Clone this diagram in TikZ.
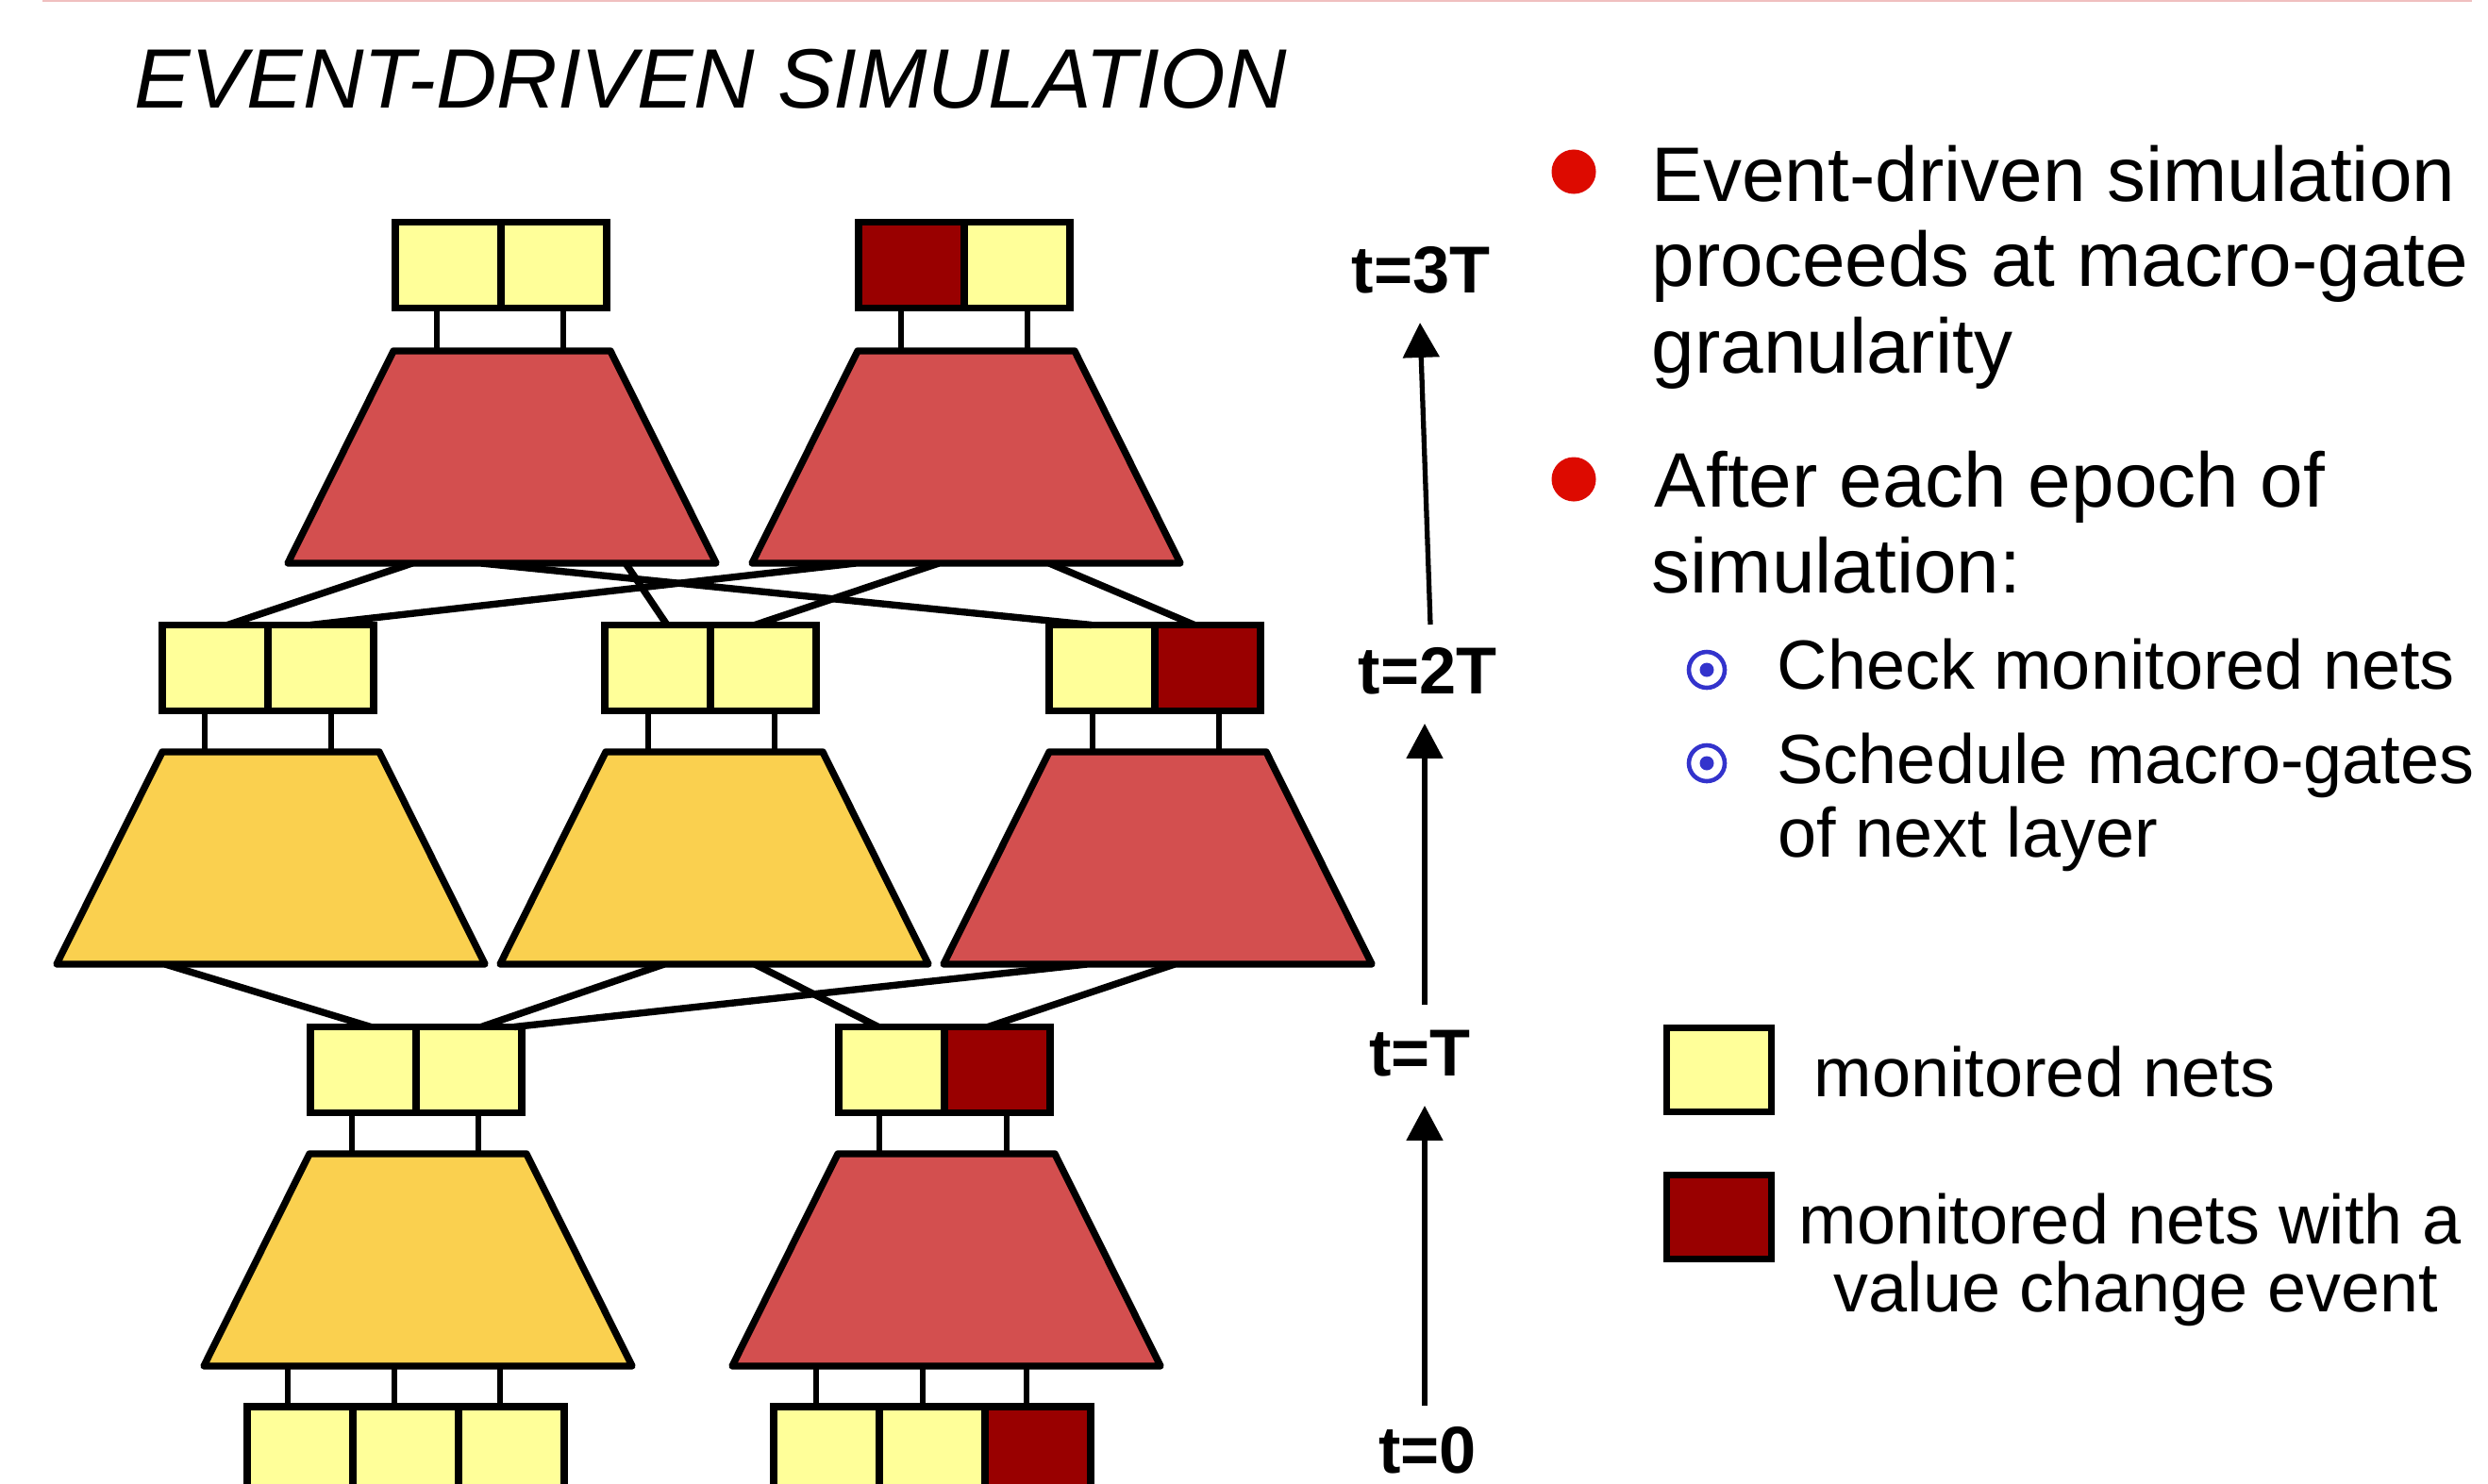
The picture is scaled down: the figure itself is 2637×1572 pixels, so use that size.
\documentclass[tikz,border=0pt]{standalone}
\usepackage{fontspec}
\setmainfont{Liberation Sans}
\usetikzlibrary{arrows.meta,calc}
\definecolor{ylw}{HTML}{FFFF99}
\definecolor{dred}{HTML}{990000}
\definecolor{tred}{HTML}{D34F4F}
\definecolor{torg}{HTML}{FAD04F}
\definecolor{bred}{HTML}{DD0A00}
\definecolor{sblue}{HTML}{3333CC}
\definecolor{pinkline}{HTML}{F0C0C0}
\newcommand\mgate[4]{%
  \coordinate (#1-tl) at ({#2-115},#3);
  \coordinate (#1-tr) at ({#2+115},#3);
  \coordinate (#1-bl) at ({#2-227},{#3+225});
  \coordinate (#1-br) at ({#2+227},{#3+225});
  \draw[gate,fill=#4] (#1-tl) -- (#1-tr) -- (#1-br) -- (#1-bl) -- cycle;
}
\begin{document}
\begin{tikzpicture}[x=0.01cm,y=-0.01cm,
  cell/.style={draw=black,line width=2.1pt,minimum width=1.12cm,minimum height=0.91cm,inner sep=0pt,outer sep=0pt},
  incell/.style={cell,minimum height=1.3cm},
  gate/.style={draw=black,line width=2.1pt,line join=round},
  wire/.style={draw=black,line width=2.1pt},
  stub/.style={draw=black,line width=1.8pt},
  tarrow/.style={draw=black,line width=1.5pt,-{Triangle[length=10.5pt,width=10.8pt]}},
  tlabel/.style={font=\fontsize{20}{24}\selectfont\bfseries,anchor=base,inner sep=0pt},
  btext/.style={font=\fontsize{23.3}{26}\selectfont,anchor=base west,inner sep=0pt},
  stext/.style={font=\fontsize{21}{24}\selectfont,anchor=base west,inner sep=0pt},
  legbox/.style={draw=black,line width=2.2pt,minimum width=1.11cm,minimum height=0.89cm,inner sep=0pt},
  sbul/.style={circle,draw=sblue,line width=1.3pt,minimum size=0.38cm,inner sep=0pt},
  sdot/.style={circle,fill=sblue,minimum size=0.15cm,inner sep=0pt},
  bbul/.style={circle,fill=bred,minimum size=0.47cm,inner sep=0pt},
]
\useasboundingbox (0,0) rectangle (2637,1572);
\clip (0,0) rectangle (2637,1572);
\fill[white] (0,0) rectangle (2637,1572);
\draw[pinkline,line width=0.7pt] (45,1) -- (2620,1);

% title
\node[anchor=base west,inner sep=0pt,font=\fontsize{25.4}{30}\selectfont\itshape] (title) at (142,114) {EVENT-DRIVEN SIMULATION};

% registers layer 3
\node[cell,fill=ylw] (r31a) at (475,281) {};
\node[cell,fill=ylw] (r31b) at (587,281) {};
\node[cell,fill=dred] (r32a) at (966,281) {};
\node[cell,fill=ylw] (r32b) at (1078,281) {};
% registers layer 2
\node[cell,fill=ylw] (r21a) at (228,708) {};
\node[cell,fill=ylw] (r21b) at (340,708) {};
\node[cell,fill=ylw] (r22a) at (697,708) {};
\node[cell,fill=ylw] (r22b) at (809,708) {};
\node[cell,fill=ylw] (r23a) at (1168,708) {};
\node[cell,fill=dred] (r23b) at (1280,708) {};
% registers layer 1
\node[cell,fill=ylw] (r11a) at (385,1134) {};
\node[cell,fill=ylw] (r11b) at (497,1134) {};
\node[cell,fill=ylw] (r12a) at (945,1134) {};
\node[cell,fill=dred] (r12b) at (1057,1134) {};
% inputs
\node[incell,fill=ylw] (r01a) at (318,1556) {};
\node[incell,fill=ylw] (r01b) at (430,1556) {};
\node[incell,fill=ylw] (r01c) at (542,1556) {};
\node[incell,fill=ylw] (r02a) at (876,1556) {};
\node[incell,fill=ylw] (r02b) at (988,1556) {};
\node[incell,fill=dred] (r02c) at (1100,1556) {};

% connectors between layers (drawn before gates)
\coordinate (g31-bl) at (305,597); \coordinate (g32-bl) at (797,597);
\coordinate (g21-bl) at (60,1022); \coordinate (g22-bl) at (530,1022); \coordinate (g23-bl) at (1000,1022);
\draw[wire] ($(g31-bl)+(132,0)$) -- ($(r21a.north)+(13,0)$);
\draw[wire] ($(g31-bl)+(205,0)$) -- ($(r23a.north)+(-11,0)$);
\draw[wire] ($(g31-bl)+(358,0)$) -- ($(r22a.north)+(10,0)$);
\draw[wire] ($(g32-bl)+(110,0)$) -- ($(r21b.north)+(-11,0)$);
\draw[wire] ($(g32-bl)+(198,0)$) -- ($(r22b.north)+(-9,0)$);
\draw[wire] ($(g32-bl)+(315,0)$) -- ($(r23b.north)+(-14,0)$);
\draw[wire] ($(g21-bl)+(115,0)$) -- ($(r11a.north)+(8,0)$);
\draw[wire] ($(g22-bl)+(174,0)$) -- ($(r11b.north)+(13,0)$);
\draw[wire] ($(g23-bl)+(152,0)$) -- ($(r11b.north)+(48,0)$);
\draw[wire] ($(g22-bl)+(270,0)$) -- ($(r12a.north)+(-14,0)$);
\draw[wire] ($(g23-bl)+(245,0)$) -- ($(r12b.north)+(-10,0)$);

% macro gates
\mgate{g31}{532}{372}{tred}
\mgate{g32}{1024}{372}{tred}
\mgate{g21}{287}{797}{torg}
\mgate{g22}{757}{797}{torg}
\mgate{g23}{1227}{797}{tred}
\mgate{g11}{443}{1223}{torg}
\mgate{g12}{1003}{1223}{tred}

% stubs register -> gate
\draw[stub] (r31a.south) ++(-12,0) coordinate (s31a) -- (s31a |- g31-tl);
\draw[stub] (r31b.south) ++(10,0) coordinate (s31b) -- (s31b |- g31-tl);
\draw[stub] (r32a.south) ++(-11,0) coordinate (s32a) -- (s32a |- g32-tl);
\draw[stub] (r32b.south) ++(11,0) coordinate (s32b) -- (s32b |- g32-tl);
\draw[stub] (r21a.south) ++(-11,0) coordinate (s21a) -- (s21a |- g21-tl);
\draw[stub] (r21b.south) ++(11,0) coordinate (s21b) -- (s21b |- g21-tl);
\draw[stub] (r22a.south) ++(-10,0) coordinate (s22a) -- (s22a |- g22-tl);
\draw[stub] (r22b.south) ++(12,0) coordinate (s22b) -- (s22b |- g22-tl);
\draw[stub] (r23a.south) ++(-10,0) coordinate (s23a) -- (s23a |- g23-tl);
\draw[stub] (r23b.south) ++(12,0) coordinate (s23b) -- (s23b |- g23-tl);
\draw[stub] (r11a.south) ++(-12,0) coordinate (s11a) -- (s11a |- g11-tl);
\draw[stub] (r11b.south) ++(10,0) coordinate (s11b) -- (s11b |- g11-tl);
\draw[stub] (r12a.south) ++(-13,0) coordinate (s12a) -- (s12a |- g12-tl);
\draw[stub] (r12b.south) ++(10,0) coordinate (s12b) -- (s12b |- g12-tl);
\draw[stub] (r01a.north) ++(-13,0) coordinate (s01a) -- (s01a |- g11-bl);
\draw[stub] (r01b.north) ++(-12,0) coordinate (s01b) -- (s01b |- g11-bl);
\draw[stub] (r01c.north) ++(-12,0) coordinate (s01c) -- (s01c |- g11-bl);
\draw[stub] (r02a.north) ++(-11,0) coordinate (s02a) -- (s02a |- g12-bl);
\draw[stub] (r02b.north) ++(-10,0) coordinate (s02b) -- (s02b |- g12-bl);
\draw[stub] (r02c.north) ++(-12,0) coordinate (s02c) -- (s02c |- g12-bl);

% time labels and arrows
\node[tlabel] (t3) at (1506,310) {t=3T};
\node[tlabel] (t2) at (1513,735) {t=2T};
\node[tlabel] (t1) at (1505,1140) {t=T};
\node[tlabel] (t0) at (1513,1561) {t=0};
\coordinate (a1s) at (1510,1490); \coordinate (a1e) at (1510,1172);
\coordinate (a2s) at (1510,1065); \coordinate (a2e) at (1510,767);
\coordinate (a3s) at (1516,662);  \coordinate (a3e) at (1505,342);
\draw[tarrow] (a1s) -- (a1e);
\draw[tarrow] (a2s) -- (a2e);
\draw[tarrow] (a3s) -- (a3e);

% bullets
\node[bbul] (b1) at (1668,182) {};
\node[bbul] (b2) at (1668,508) {};
\node[btext] (l1) at (1750,213) {Event-driven simulation};
\node[btext] (l2) at (1750,303) {proceeds at macro-gate};
\node[btext] (l3) at (1750,395) {granularity};
\node[btext] (l4) at (1753,537) {After each epoch of};
\node[btext] (l5) at (1750,628) {simulation:};
\node[sbul] (sb1) at (1809,710) {};
\node[sdot] (sd1) at (sb1) {};
\node[sbul] (sb2) at (1809,809) {};
\node[sdot] (sd2) at (sb2) {};
\node[stext] (m1) at (1883,730) {Check monitored nets};
\node[stext] (m2) at (1883,830) {Schedule macro-gates};
\node[stext] (m3) at (1884,908) {of next layer};

% legend
\node[legbox,fill=ylw] (ly) at (1822,1134) {};
\node[legbox,fill=dred] (lr) at (1822,1290) {};
\node[stext] (ty) at (1922,1162) {monitored nets};
\node[stext] (tr1) at (1906,1318) {monitored nets with a};
\node[font=\fontsize{21}{24}\selectfont,anchor=base,inner sep=0pt] (tr2) at (2264,1390) {value change event};
\end{tikzpicture}
\end{document}
